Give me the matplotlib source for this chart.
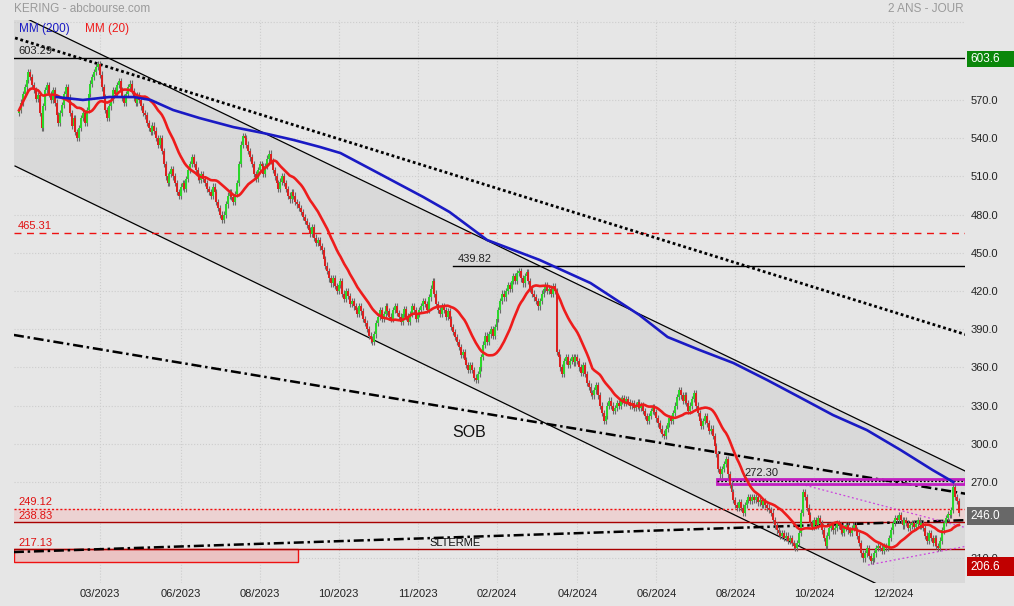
import matplotlib
matplotlib.use("Agg")
import matplotlib.pyplot as plt
from matplotlib.patches import Rectangle
import numpy as np
import pandas as pd

plt.rcParams['font.family'] = ['Liberation Sans', 'DejaVu Sans']

# ------------------------------------------------------------
# données (clôtures journalières)
# ------------------------------------------------------------
closes = [
    562, 568, 575, 580, 586, 592, 588, 582, 578, 571,
    574, 560, 548, 565, 578, 582, 575, 570, 578, 568,
    558, 552, 560, 566, 575, 580, 572, 560, 550, 556,
    545, 540, 548, 556, 560, 552, 562, 575, 583, 588,
    592, 596, 598, 590, 580, 572, 562, 556, 565, 570,
    578, 575, 582, 585, 578, 572, 568, 575, 580, 583,
    577, 572, 568, 574, 570, 565, 560, 558, 552, 548,
    545, 550, 546, 540, 535, 540, 530, 520, 510, 505,
    512, 516, 510, 505, 498, 495, 502, 505, 500, 508,
    515, 520, 525, 520, 515, 510, 507, 512, 508, 505,
    500, 498, 495, 502, 498, 490, 485, 480, 476, 480,
    488, 495, 498, 494, 490, 496, 505, 520, 535, 542,
    540, 535, 530, 525, 520, 512, 508, 515, 520, 518,
    512, 518, 524, 528, 522, 515, 510, 505, 500, 506,
    510, 505, 500, 495, 492, 498, 495, 490, 488, 485,
    482, 478, 475, 472, 468, 465, 470, 462, 458, 460,
    455, 452, 445, 440, 436, 430, 426, 430, 424, 420,
    425, 428, 418, 414, 420, 416, 410, 412, 408, 405,
    402, 408, 404, 398, 395, 390, 385, 382, 380, 386,
    395, 400, 405, 398, 402, 408, 404, 400, 398, 405,
    408, 403, 400, 396, 402, 406, 400, 396, 402, 408,
    405, 398, 402, 405, 408, 412, 410, 405, 415, 422,
    428, 418, 410, 405, 402, 408, 405, 400, 404, 398,
    392, 388, 384, 380, 376, 370, 372, 366, 362, 358,
    362, 358, 352, 350, 355, 360, 368, 378, 385, 380,
    386, 390, 385, 392, 398, 405, 412, 418, 415, 420,
    425, 422, 428, 432, 428, 434, 436, 430, 426, 432,
    435, 428, 422, 418, 415, 412, 408, 412, 418, 422,
    425, 420, 422, 418, 424, 420, 372, 368, 360, 355,
    365, 368, 362, 365, 368, 364, 368, 365, 360, 356,
    362, 355, 348, 345, 340, 338, 342, 346, 338, 330,
    324, 318, 322, 330, 334, 330, 326, 328, 332, 330,
    334, 336, 332, 335, 333, 330, 332, 328, 330, 333,
    328, 330, 326, 322, 318, 322, 326, 329, 325, 320,
    316, 312, 308, 306, 312, 316, 320, 318, 324, 330,
    337, 342, 338, 334, 338, 332, 326, 330, 335, 340,
    330, 324, 318, 314, 318, 322, 316, 310, 312, 306,
    298, 292, 280, 276, 280, 284, 288, 276, 268, 262,
    256, 252, 250, 254, 250, 246, 252, 256, 258, 255,
    258, 256, 258, 254, 256, 252, 255, 252, 250, 248,
    246, 240, 236, 232, 230, 228, 230, 226, 228, 224,
    226, 222, 220, 218, 222, 230, 246, 262, 258, 250,
    244, 238, 235, 240, 236, 242, 238, 232, 226, 220,
    228, 234, 236, 232, 234, 238, 236, 232, 230, 234,
    236, 232, 230, 234, 236, 232, 228, 222, 214, 210,
    214, 218, 212, 208, 210, 214, 218, 220, 218, 216,
    220, 218, 220, 226, 232, 238, 242, 240, 244, 240,
    236, 240, 238, 234, 236, 238, 235, 237, 240, 236,
    238, 234, 228, 224, 230, 226, 222, 226, 220, 218,
    224, 232, 238, 242, 245, 244, 248, 266, 258, 255, 246,
]
first_open = 560

mm200_idx = [20, 34, 48, 61, 70, 82, 96, 114, 130, 146, 160, 171, 188, 215,
             229, 249, 277, 304, 330, 345, 362, 380, 398, 415, 433, 451, 469, 486, 497]
mm200_val = [572.4, 570.1, 572.4, 572.4, 570.1, 562.2, 555.9, 548.8, 544.1, 538.7,
             533.2, 528.4, 515.1, 493.9, 482.1, 460.1, 444.4, 426.3, 401.2, 383.9,
             373.7, 363.5, 350.1, 336.8, 322.6, 310.8, 295.1, 279.4, 270.0]

date_idx = [43, 86, 128, 170, 212, 254, 297, 339, 381, 423, 465]
date_labels = ['03/2023', '06/2023', '08/2023', '10/2023', '11/2023', '02/2024',
               '04/2024', '06/2024', '08/2024', '10/2024', '12/2024']
price_ticks = [210, 240, 270, 300, 330, 360, 390, 420, 450, 480, 510, 540, 570]

# tracés (index, prix)
chan_up_x, chan_up_y = [-2.1, 504.3], [638.4, 277.9]
chan_lo_x, chan_lo_y = [-2.1, 504.3], [518.2, 155.6]
dotted_x, dotted_y = [-2.1, 504.3], [618.8, 385.5]
sob_x, sob_y = [-2.7, 504.3], [385.5, 260.6]
slt_x, slt_y = [-2.7, 504.3], [215.0, 240.1]
mag_hi_x, mag_hi_y = [413.8, 504.3], [269.2, 233.9]
mag_lo_x, mag_lo_y = [451.6, 504.3], [204.8, 219.7]

# niveaux horizontaux
lvl_top = 603.29
lvl_465 = 465.31
lvl_439 = 439.82
lvl_272 = 272.30
lvl_249 = 249.12
lvl_238 = 238.83
lvl_217 = 217.13

# ------------------------------------------------------------
# figure
# ------------------------------------------------------------
W, H = 1014, 606
BG = '#e6e6e6'
fig = plt.figure(figsize=(W / 100, H / 100), dpi=100, facecolor=BG)


def fx(x):
    return x / W


def fy(y):
    return 1 - y / H


ax = fig.add_axes([fx(14), fy(583), (965 - 14) / W, (583 - 20) / H])
ax.set_facecolor(BG)
XMIN, XMAX = -2.66, 503.2
ax.set_xlim(XMIN, XMAX)
ax.set_ylim(190.7, 632.9)
for s in ax.spines.values():
    s.set_visible(False)

# canal gris
xs = np.array([XMIN, XMAX])
up = np.interp(xs, chan_up_x, chan_up_y)
lo = np.interp(xs, chan_lo_x, chan_lo_y)
ax.fill_between(xs, lo, up, color='#d9d9d9', zorder=0.2, lw=0)
ax.plot(chan_up_x, chan_up_y, color='black', lw=0.9, zorder=3)
ax.plot(chan_lo_x, chan_lo_y, color='black', lw=0.9, zorder=3)

ax.set_axisbelow(True)
ax.grid(True, color='#cdcdcd', linestyle=':', lw=0.8, zorder=0.5)
ax.axhline(631.5, color='#cdcdcd', linestyle=':', lw=0.8, zorder=0.5)

# zones
ax.fill_between(xs, lvl_238, lvl_249, color='#ecd2d2', zorder=0.6, lw=0)
ax.add_patch(Rectangle((XMIN, 207.0), (298 - 14) / 1.88, lvl_217 - 207.0,
                       facecolor='#ebc3c3', edgecolor='#ee1111', lw=1, zorder=1))

# lignes horizontales
ax.axhline(lvl_top, color='black', lw=1, zorder=3)
ax.axhline(lvl_465, color='#ee1111', lw=1, ls=(0, (5, 4)), zorder=3)
ax.plot([230.9, XMAX], [lvl_439, lvl_439], color='black', lw=1, zorder=3)
ax.axhline(lvl_249, color='#ee1111', lw=1, ls=(0, (1.5, 1.5)), zorder=3)
ax.axhline(lvl_238, color='#a80000', lw=1, zorder=3)
ax.axhline(lvl_217, color='#a80000', lw=1, zorder=3)

# lignes de tendance
ax.plot(dotted_x, dotted_y, color='black', lw=2, ls=(0, (1, 1)), zorder=3)
ax.plot(sob_x, sob_y, color='black', lw=1.8, ls=(0, (4, 1.5, 1, 1.5)), zorder=3)
ax.plot(slt_x, slt_y, color='black', lw=1.8, ls=(0, (4, 1.5, 1, 1.5)), zorder=3)
ax.plot(mag_hi_x, mag_hi_y, color='#cc44dd', lw=0.9, ls=(0, (1.5, 2)), zorder=3)
ax.plot(mag_lo_x, mag_lo_y, color='#cc44dd', lw=0.9, ls=(0, (1.5, 2)), zorder=3)

# rectangle violet 272.30
ax.add_patch(Rectangle((371.3, 268.4), XMAX - 371.3, 4.0, facecolor='none',
                       edgecolor='#c01cc0', lw=2, zorder=4))
ax.plot([371.3, XMAX], [271.2, 271.2], color='black', lw=0.9, ls=(0, (1.5, 1.5)), zorder=4)

# chandeliers
c = np.array(closes, dtype=float)
o = np.concatenate([[first_open], c[:-1]])
idx = np.arange(len(c))
top = np.maximum(o, c)
bot = np.minimum(o, c)
body = np.maximum(top - bot, 1.0)
col = np.where(c >= o, '#2bd62b', '#dd2020')
ax.vlines(idx, bot - 2.5, top + 2.5, color='#6a6a6a', lw=0.8, zorder=5)
ax.bar(idx, body, bottom=bot, width=1.05, color=col, lw=0, zorder=6)

# moyennes mobiles
mm20 = pd.Series(c).rolling(20, min_periods=1).mean()
ax.plot(idx, mm20, color='#ee1c1c', lw=1.9, zorder=7)
ax.plot(mm200_idx, mm200_val, color='#1a1ac4', lw=1.9, zorder=7)

# textes dans le graphe
red = '#e01010'
ax.text(-0.5, lvl_top + 1.5, '603.29', fontsize=8, color='#222222', va='bottom', zorder=8)
ax.text(-0.5, lvl_465 + 1.5, '465.31', fontsize=8, color=red, va='bottom', zorder=8)
ax.text(233.5, lvl_439 + 1.5, '439.82', fontsize=8, color='#222222', va='bottom', zorder=8)
ax.text(386, lvl_272 + 0.8, '272.30', fontsize=8, color='#222222', va='bottom', zorder=8)
ax.text(-0.5, lvl_249 + 1.2, '249.12', fontsize=8, color=red, va='bottom', zorder=8)
ax.text(-0.5, 243.6, '238.83', fontsize=8, color=red, va='center', zorder=8)
ax.text(-0.5, lvl_217 + 1.2, '217.13', fontsize=8, color=red, va='bottom', zorder=8)
ax.text(218.6, lvl_217 + 1.2, 'SLTERME', fontsize=8, color='#111111', va='bottom', zorder=8)
ax.text(230.3, 309.3, 'SOB', fontsize=11.5, color='#111111', va='center', zorder=8)

# axes (240.0 est entièrement caché par l'étiquette 246.0)
ax.yaxis.tick_right()
ax.set_yticks(price_ticks)
ax.set_yticklabels(['' if v == 240 else f'{v:.1f}' for v in price_ticks])
ax.tick_params(axis='y', length=0, pad=4, labelsize=8, labelcolor='#222222')
ax.set_xticks(date_idx)
ax.set_xticklabels(date_labels)
ax.tick_params(axis='x', length=0, pad=4, labelsize=8, labelcolor='#222222')

# étiquettes de droite
boxes = [(51, 67, '#0a870a', '603.6'), (507, 525, '#686868', '246.0'), (557, 576, '#c00000', '206.6')]
for y0, y1, fc, txt in boxes:
    fig.add_artist(Rectangle((fx(967), fy(y1)), fx(1014) - fx(967), (y1 - y0) / H,
                             transform=fig.transFigure, facecolor=fc, edgecolor='none', zorder=10))
    fig.text(fx(970), fy((y0 + y1) / 2), txt, color='white', fontsize=8.5, va='center', zorder=11)

# titre et légende
fig.text(fx(14), fy(9), 'KERING - abcbourse.com', color='#9a9a9a', fontsize=8.5, va='center')
fig.text(fx(964), fy(9), '2 ANS - JOUR', color='#9a9a9a', fontsize=8.5, va='center', ha='right')
fig.text(fx(19), fy(29), 'MM (200)', color='#1a1ac4', fontsize=8.5, va='center')
fig.text(fx(85), fy(29), 'MM (20)', color='#ee1c1c', fontsize=8.5, va='center')

fig.savefig('out.png', dpi=100, facecolor=BG)
